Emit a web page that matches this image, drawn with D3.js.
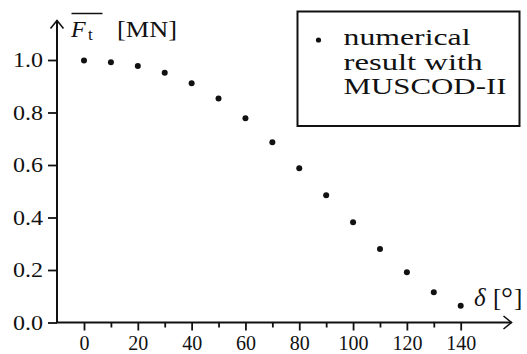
<!DOCTYPE html>
<html>
<head>
<meta charset="utf-8">
<script src="https://cdn.jsdelivr.net/npm/d3@7"></script>
<style>
  body { margin: 0; background: #fff; }
  text { font-family: "Liberation Serif", "Times New Roman", serif; fill: #111; }
</style>
</head>
<body>
<script>
// data
const angles = [0, 10, 20, 30, 40, 50, 60, 70, 80, 90, 100, 110, 120, 130, 140];
const forces = [0.998, 0.991, 0.977, 0.951, 0.911, 0.853, 0.778, 0.687, 0.588, 0.485, 0.382, 0.280, 0.191, 0.115, 0.064];
const xMajor = [0, 20, 40, 60, 80, 100, 120, 140];
const xMinor = [10, 30, 50, 70, 90, 110, 130];
const yTicks = [0, 0.2, 0.4, 0.6, 0.8, 1.0];
const legendLines = ["numerical", "result with", "MUSCOD-II"];

const W = 527, H = 354;

let svg = d3.select("body").append("svg")
    .attr("width", W)
    .attr("height", H);

let x = d3.scaleLinear().domain([0, 140]).range([84, 460.7]);
let y = d3.scaleLinear().domain([0, 1]).range([322.5, 60]);
const x0 = 57; // where the y axis sits

// y axis ticks
let yAxis = svg.append("g")
    .attr("transform", `translate(${x0},0)`)
    .call(d3.axisLeft(y).tickValues(yTicks).tickFormat(d3.format(".1f")).tickSize(9).tickPadding(5));
yAxis.select(".domain").remove();
yAxis.selectAll("line").attr("stroke", "#111").attr("stroke-width", 1.8);
yAxis.selectAll("text")
    .style("font-size", "21px").attr("fill", "#111")
    .attr("textLength", 30).attr("lengthAdjust", "spacingAndGlyphs");

// x axis major ticks
let xAxis = svg.append("g")
    .attr("transform", `translate(0,${y(0)})`)
    .call(d3.axisBottom(x).tickValues(xMajor).tickSize(8).tickPadding(5));
xAxis.select(".domain").remove();
xAxis.selectAll("line").attr("stroke", "#111").attr("stroke-width", 1.8);
xAxis.selectAll("text").style("font-size", "20px").attr("fill", "#111");

// x axis minor ticks
let xMinorAxis = svg.append("g")
    .attr("transform", `translate(0,${y(0)})`)
    .call(d3.axisBottom(x).tickValues(xMinor).tickSize(5).tickFormat(""));
xMinorAxis.select(".domain").remove();
xMinorAxis.selectAll("line").attr("stroke", "#111").attr("stroke-width", 1.8);

// axis lines with open arrow heads
svg.append("line")
    .attr("x1", x0).attr("y1", y(0)).attr("x2", x0).attr("y2", 20.5)
    .attr("stroke", "#111").attr("stroke-width", 2);
svg.append("path")
    .attr("d", `M${x0 - 6.5},28.5 L${x0},20.5 L${x0 + 6.5},28.5`)
    .attr("fill", "none").attr("stroke", "#111").attr("stroke-width", 1.6);

svg.append("line")
    .attr("x1", x0 - 1).attr("y1", y(0)).attr("x2", 511.5).attr("y2", y(0))
    .attr("stroke", "#111").attr("stroke-width", 2);
svg.append("path")
    .attr("d", `M503.5,${y(0) - 6.5} L511.5,${y(0)} L503.5,${y(0) + 6.5}`)
    .attr("fill", "none").attr("stroke", "#111").attr("stroke-width", 1.6);

// y axis title: overline F_t [MN]
let yTitle = svg.append("text").attr("y", 36.5).style("font-size", "24px");
yTitle.append("tspan").attr("x", 71).style("font-style", "italic").text("F");
yTitle.append("tspan").attr("x", 88).attr("y", 40).style("font-size", "17px").text("t");
svg.append("line")
    .attr("x1", 71.5).attr("x2", 102.5).attr("y1", 13.5).attr("y2", 13.5)
    .attr("stroke", "#111").attr("stroke-width", 1.5);
svg.append("text")
    .attr("x", 117).attr("y", 37)
    .attr("textLength", 60).attr("lengthAdjust", "spacingAndGlyphs")
    .style("font-size", "24px")
    .text("[MN]");

// x axis title: delta [deg]
let xTitle = svg.append("text").attr("y", 306).style("font-size", "25px");
xTitle.append("tspan").attr("x", 474).style("font-style", "italic").text("δ");
xTitle.append("tspan").attr("x", 493).text("[");
xTitle.append("tspan").attr("x", 501).attr("y", 308).style("font-size", "30px").text("°");
xTitle.append("tspan").attr("x", 514).attr("y", 306).style("font-size", "25px").text("]");

// data points
svg.append("g")
    .selectAll("circle")
    .data(angles)
    .enter()
    .append("circle")
    .attr("cx", (d) => x(d))
    .attr("cy", (d, i) => y(forces[i]))
    .attr("r", 3)
    .attr("fill", "#111");

// legend
svg.append("rect")
    .attr("x", 297.5).attr("y", 11.5)
    .attr("width", 222).attr("height", 114.5)
    .attr("fill", "#fff").attr("stroke", "#111").attr("stroke-width", 2);
svg.append("circle")
    .attr("cx", 318.5).attr("cy", 40).attr("r", 2.6).attr("fill", "#111");
const legendWidths = [127, 139, 163];
svg.append("g")
    .selectAll("text")
    .data(legendLines)
    .enter()
    .append("text")
    .attr("x", 343.5)
    .attr("y", (d, i) => 45 + i * 24.5)
    .attr("textLength", (d, i) => legendWidths[i])
    .attr("lengthAdjust", "spacingAndGlyphs")
    .style("font-size", "24px")
    .text((d) => d);
</script>
</body>
</html>
